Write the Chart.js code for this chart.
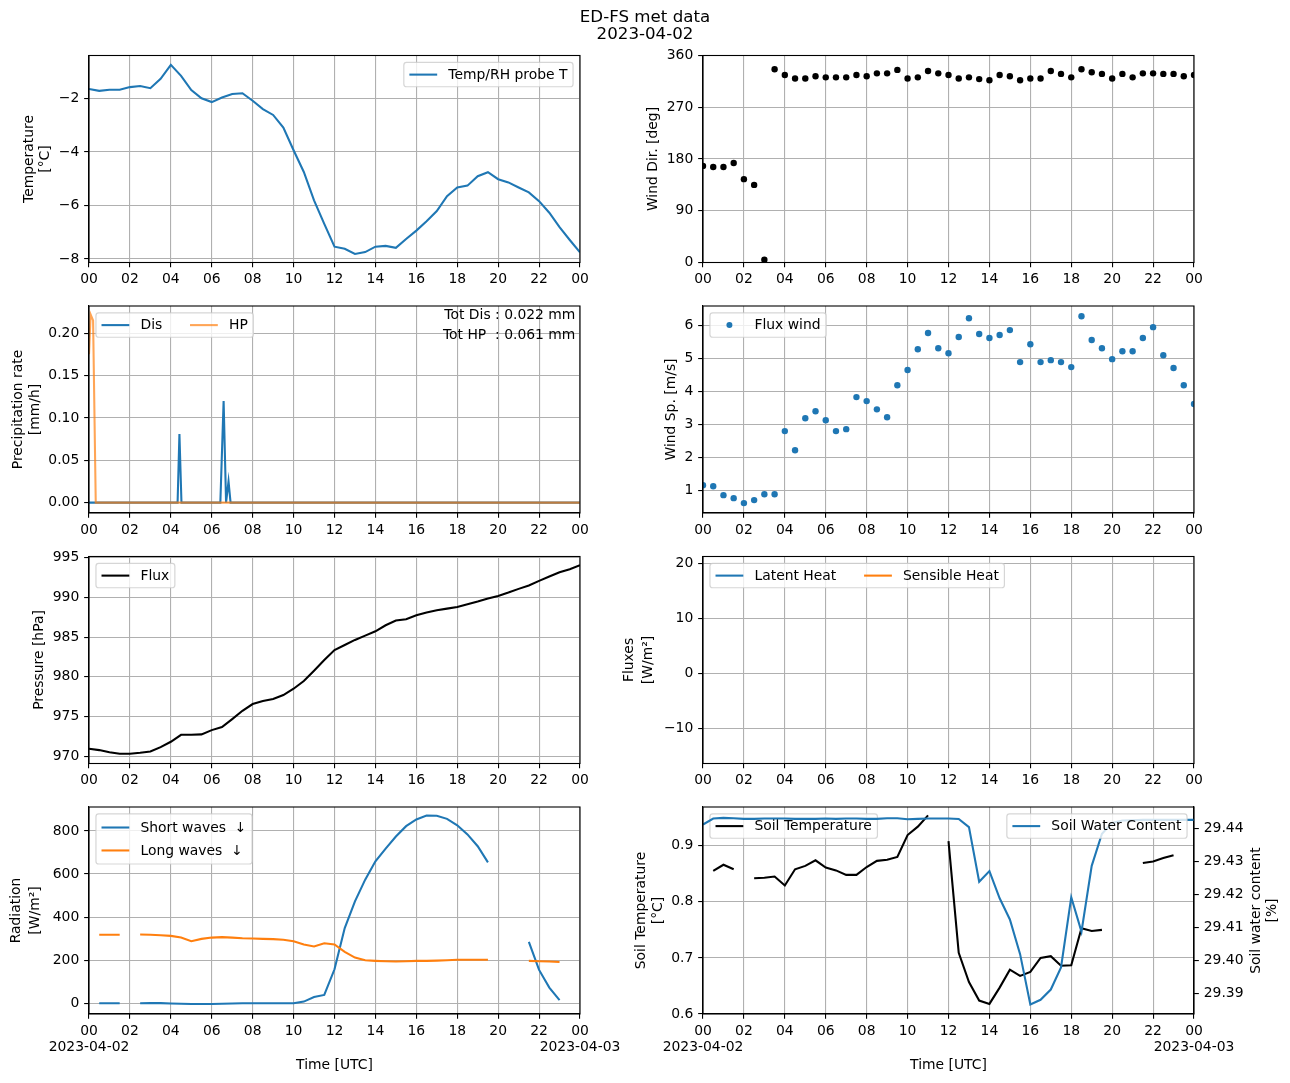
<!DOCTYPE html>
<html><head><meta charset="utf-8">
<script src="https://cdn.jsdelivr.net/npm/chart.js@4.4.0/dist/chart.umd.min.js"></script>
<style>
html,body{margin:0;padding:0;background:#fff;}
#wrap{position:relative;width:1290px;height:1083px;background:#fff;}
#wrap canvas{position:absolute;left:0;top:0;}
</style></head><body><div id="wrap"></div>
<script>
// ---------------- DATA ----------------
const times = [0,0.5,1,1.5,2,2.5,3,3.5,4,4.5,5,5.5,6,6.5,7,7.5,8,8.5,9,9.5,10,10.5,11,11.5,12,12.5,13,13.5,14,14.5,15,15.5,16,16.5,17,17.5,18,18.5,19,19.5,20,20.5,21,21.5,22,22.5,23,23.5,24];
const xTickHours = [0,2,4,6,8,10,12,14,16,18,20,22,24];
const startDate = '2023-04-02';
const endDate = '2023-04-03';

const tempTicks = [-8,-6,-4,-2];
const windDirTicks = [0,90,180,270,360];
const precipTicks = [0,0.05,0.10,0.15,0.20];
const windSpTicks = [1,2,3,4,5,6];
const pressureTicks = [970,975,980,985,990,995];
const fluxTicks = [-10,0,10,20];
const radTicks = [0,200,400,600,800];
const soilTempTicks = [0.6,0.7,0.8,0.9];
const soilWaterTicks = [29.39,29.40,29.41,29.42,29.43,29.44];

const tempProbe = [-1.65,-1.72,-1.68,-1.68,-1.58,-1.54,-1.62,-1.27,-0.75,-1.16,-1.69,-2.00,-2.14,-1.97,-1.84,-1.81,-2.09,-2.40,-2.62,-3.09,-3.94,-4.75,-5.81,-6.69,-7.54,-7.62,-7.81,-7.74,-7.54,-7.51,-7.58,-7.25,-6.94,-6.59,-6.21,-5.65,-5.33,-5.26,-4.91,-4.76,-5.02,-5.14,-5.33,-5.51,-5.84,-6.27,-6.81,-7.29,-7.75];

const windDir = [168,166,166,173,145,135,5,336,326,320,320,324,322,322,322,326,324,329,329,335,320,322,333,329,326,320,322,319,317,326,324,317,320,320,333,328,322,336,331,328,320,328,322,329,329,328,328,324,326];

const disTimes = [0,4.33,4.42,4.52,6.42,6.58,6.70,6.82,6.92,24];
const disRate  = [0,0,0.081,0,0,0.12,0,0.025,0,0];
const hpTimes  = [0,0.08,0.2,0.33,24];
const hpRate   = [0.175,0.222,0.215,0,0];
const totDis = '0.022';
const totHP = '0.061';

const windSpeed = [1.15,1.12,0.85,0.76,0.61,0.70,0.88,0.88,2.79,2.21,3.18,3.39,3.12,2.79,2.85,3.82,3.70,3.45,3.21,4.18,4.64,5.27,5.76,5.30,5.15,5.64,6.21,5.73,5.61,5.70,5.85,4.88,5.42,4.88,4.94,4.88,4.73,6.27,5.55,5.30,4.97,5.21,5.21,5.61,5.94,5.09,4.70,4.18,3.61];

const pressure = [970.93,970.76,970.50,970.29,970.29,970.42,970.59,971.14,971.81,972.69,972.69,972.74,973.28,973.66,974.67,975.72,976.57,976.94,977.20,977.70,978.50,979.47,980.77,982.12,983.38,984.01,984.65,985.19,985.74,986.50,987.09,987.26,987.76,988.10,988.39,988.60,988.81,989.15,989.49,989.87,990.20,990.62,991.09,991.51,992.10,992.64,993.19,993.57,994.07];

const latentHeat = [];
const sensibleHeat = [];

const shortWaves = [null,0,0,0,null,0,1,1,-1,-2,-3,-3,-3,-2,-1,0,0,0,0,0,0,8,29,39,158,349,473,574,659,718,774,822,853,871,870,856,826,784,729,654,null,null,null,285,155,73,15,null,null];
const longWaves  = [null,318,318,318,null,319,318,316,313,305,288,299,305,307,305,302,301,299,298,295,288,273,264,279,273,239,212,200,197,195,194,195,197,197,198,200,202,202,202,202,null,null,null,197,195,194,192,null,null];

const soilTemp = [null,0.855,0.866,0.858,null,0.842,0.843,0.845,0.829,0.858,0.864,0.874,0.861,0.856,0.848,0.848,0.862,0.873,0.875,0.880,0.919,0.934,0.954,null,0.908,0.709,0.657,0.624,0.618,0.647,0.679,0.668,0.675,0.700,0.703,0.686,0.687,0.753,0.748,0.750,null,null,null,0.869,0.872,0.878,0.883,null,null];
const soilWater = [29.4411,29.4429,29.4431,29.4430,29.4428,29.4428,29.4429,29.4429,29.4429,29.4428,29.4428,29.4428,29.4429,29.4428,29.4429,29.4429,29.4428,29.4428,29.4430,29.4430,29.4427,29.4428,29.4429,29.4429,29.4429,29.4428,29.4403,29.4238,29.4270,29.4188,29.4124,29.4019,29.3867,29.3881,29.3912,29.3979,29.4191,29.4087,29.4286,29.4383,29.4416,29.4423,29.4424,29.4425,29.4425,29.4425,29.4425,29.4425,29.4425];

// ---------------- STYLE ----------------
const C0 = '#1f77b4', C1 = '#ff7f0e', C1a = 'rgba(255,127,14,0.7)';
const FONT = "'DejaVu Sans', sans-serif";
const FS = 13.9, LW = 2.08, TL = 4.86;
Chart.defaults.font.family = FONT;
Chart.defaults.font.size = FS;
Chart.defaults.color = '#000';
const wrap = document.getElementById('wrap');
const minus = s => String(s).replace('-', '\u2212');
const COL = {left:{L:89,R:580}, right:{L:703,R:1194}};
const ROWS = [55.5,306,556.5,807];
const RH = 207;

function gridOpts(extra){
  return Object.assign({color:'#b0b0b0', lineWidth:1.1, tickColor:'#000', tickLength:TL, tickWidth:1.1}, extra||{});
}
function xAxis(bottom){
  return {
    type:'linear', min:0, max:24,
    afterBuildTicks: s => { s.ticks = xTickHours.map(v => ({value:v})); },
    ticks:{padding:3.9, maxRotation:0, minRotation:0, autoSkip:false, includeBounds:false, color:'#000', font:{size:FS},
      callback: v => {
        const h = String(v % 24).padStart(2,'0');
        if (bottom && v === 0) return [h, startDate];
        if (bottom && v === 24) return [h, endDate];
        return h;
      }},
    grid: gridOpts(),
    border:{display:true, color:'#000', width:1.1},
    title: bottom ? {display:true, text:'Time [UTC]', padding:0, color:'#000', font:{size:FS}} : {display:false},
    afterFit: s => { s.height = bottom ? 59.35 : 40; }
  };
}
function yAxis(o){
  return {
    type:'linear', position:o.position||'left', min:o.min, max:o.max,
    afterBuildTicks: s => { s.ticks = o.ticks.map(v => ({value:v})); },
    ticks:{padding:TL, autoSkip:false, includeBounds:false, color:'#000', font:{size:FS},
      callback: v => minus(o.fmt ? o.fmt(v) : Math.round(v))},
    grid: gridOpts(o.noGrid ? {drawOnChartArea:false} : {}),
    border:{display:true, color:'#000', width:1.1},
    title: o.title ? {display:true, text:o.title, padding:0, color:'#000', font:{size:FS, lineHeight:o.lh||1.2}} : {display:false},
    afterFit: s => { s.width = o.width; }
  };
}
function roundRect(ctx,x,y,w,h,r){
  ctx.beginPath();
  ctx.moveTo(x+r,y); ctx.lineTo(x+w-r,y); ctx.arcTo(x+w,y,x+w,y+r,r);
  ctx.lineTo(x+w,y+h-r); ctx.arcTo(x+w,y+h,x+w-r,y+h,r);
  ctx.lineTo(x+r,y+h); ctx.arcTo(x,y+h,x,y+h-r,r);
  ctx.lineTo(x,y+r); ctx.arcTo(x,y,x+r,y,r); ctx.closePath();
}
function legendBox(ctx, a, lg){
  const fs=FS, pad=0.4*fs, hl=2*fs, htp=0.8*fs, cs=2*fs, ls=0.5*fs, bap=0.5*fs;
  const rowH = lg.rowH || 13.2;
  const ncol = lg.ncol || 1, items = lg.items;
  const nrow = Math.ceil(items.length/ncol);
  ctx.save();
  ctx.font = fs + 'px ' + FONT;
  const colW = [];
  for (let c=0;c<ncol;c++){ let w=0; for(let r=0;r<nrow;r++){ const it=items[c*nrow+r]; if(it) w=Math.max(w, hl+htp+ctx.measureText(it.label).width); } colW.push(w); }
  const W = pad*2 + colW.reduce((s,b)=>s+b,0) + cs*(ncol-1);
  const H = pad*2 + nrow*rowH + (nrow-1)*ls;
  const x0 = lg.loc==='upper right' ? a.right - bap - W : a.left + bap;
  const y0 = a.top + bap;
  roundRect(ctx,x0,y0,W,H,2.8);
  ctx.fillStyle='rgba(255,255,255,0.8)'; ctx.fill();
  ctx.strokeStyle='rgba(204,204,204,0.8)'; ctx.lineWidth=1.2; ctx.stroke();
  let cx = x0 + pad;
  for (let c=0;c<ncol;c++){
    for (let r=0;r<nrow;r++){
      const it = items[c*nrow+r]; if(!it) continue;
      const cy = y0 + pad + r*(rowH+ls) + rowH/2;
      if (it.type==='marker'){
        ctx.beginPath(); ctx.arc(cx+hl/2, cy, 3, 0, Math.PI*2); ctx.fillStyle=it.color; ctx.fill();
      } else {
        ctx.beginPath(); ctx.moveTo(cx,cy); ctx.lineTo(cx+hl,cy); ctx.strokeStyle=it.color; ctx.lineWidth=LW; ctx.stroke();
      }
      ctx.fillStyle='#000'; ctx.textAlign='left'; ctx.textBaseline='middle';
      ctx.fillText(it.label, cx+hl+htp, cy+0.5);
    }
    cx += colW[c] + cs;
  }
  ctx.restore();
}
let pid = 0;
function makeChart(p){
  const c = document.createElement('canvas'); c.width=1290; c.height=1083; wrap.appendChild(c);
  const L=COL[p.col].L, R=COL[p.col].R, T=ROWS[p.row], B=T+RH;
  const bottom = p.row===3;
  const Hx = bottom ? 59.35 : 40;
  const Wy = p.y.width, Wr = p.y2 ? p.y2.width : 0;
  const scales = {x:xAxis(bottom), y:yAxis(p.y)};
  if (p.y2) scales.y2 = yAxis(Object.assign({position:'right', noGrid:true}, p.y2));
  const plugin = {
    id:'mpl'+(pid++),
    afterDatasetDraw(chart,args){ (p.legends||[]).forEach(lg=>{ if(lg.afterDataset===args.index) legendBox(chart.ctx, chart.chartArea, lg); }); },
    afterDatasetsDraw(chart){
      const a=chart.chartArea, ctx=chart.ctx;
      ctx.save(); ctx.strokeStyle='#000'; ctx.lineWidth=1.1; ctx.strokeRect(a.left,a.top,a.right-a.left,a.bottom-a.top); ctx.restore();
      (p.legends||[]).forEach(lg=>{ if(lg.afterDataset===undefined) legendBox(ctx,a,lg); });
      if (p.extraDraw) p.extraDraw(chart);
    }
  };
  const datasets = p.datasets.map(d => Object.assign({pointRadius:0, borderWidth:LW, tension:0, fill:false, clip:0, spanGaps:false}, d));
  new Chart(c, {type:'line', data:{labels:p.labels, datasets},
    options:{responsive:false, maintainAspectRatio:false, animation:false, events:[],
      layout:{padding:{left:L-Wy, top:T, right:1290-R-Wr, bottom:1083-B-Hx}},
      plugins:{legend:{display:false}, tooltip:{enabled:false}, title:{display:false}},
      scales},
    plugins:[plugin]});
}

// 1. Temperature
makeChart({col:'left', row:0, labels:times,
  datasets:[{label:'Temp/RH probe T', data:tempProbe, borderColor:C0}],
  y:{min:-8.13, max:-0.40, ticks:tempTicks, width:68.35, title:['Temperature','[°C]']},
  legends:[{loc:'upper right', items:[{label:'Temp/RH probe T', color:C0}]}],
  extraDraw(chart){
    const ctx=chart.ctx; ctx.save(); ctx.fillStyle='#000'; ctx.textAlign='center'; ctx.textBaseline='alphabetic';
    ctx.font='16.67px '+FONT; ctx.fillText('ED-FS met data',645,22); ctx.fillText(startDate,645,39); ctx.restore();
  }});
// 2. Wind direction
makeChart({col:'right', row:0, labels:times,
  datasets:[{label:'Wind Dir.', data:windDir, showLine:false, pointRadius:3.2, pointBorderWidth:0, pointBackgroundColor:'#000', borderColor:'#000'}],
  y:{min:0, max:360, ticks:windDirTicks, width:58.35, title:'Wind Dir. [deg]'}});
// 3. Precipitation
makeChart({col:'left', row:1,
  datasets:[
    {label:'Dis', data:disTimes.map((t,i)=>({x:t,y:disRate[i]})), borderColor:C0, order:2},
    {label:'HP', data:hpTimes.map((t,i)=>({x:t,y:hpRate[i]})), borderColor:C1a, order:1}],
  y:{min:-0.0122, max:0.232, ticks:precipTicks, width:78.75, title:['Precipitation rate','[mm/h]'], fmt:v=>v.toFixed(2)},
  legends:[{loc:'upper left', ncol:2, items:[{label:'Dis', color:C0},{label:'HP', color:C1a}]}],
  extraDraw(chart){
    const a=chart.chartArea, ctx=chart.ctx; ctx.save(); ctx.fillStyle='#000'; ctx.textAlign='right'; ctx.textBaseline='middle';
    ctx.font=FS+'px '+FONT;
    ctx.fillText('Tot Dis : '+totDis+' mm', a.right-4.6, a.top+9.2);
    ctx.fillText('Tot HP  : '+totHP+' mm', a.right-4.6, a.top+29.5);
    ctx.restore();
  }});
// 4. Wind speed
makeChart({col:'right', row:1, labels:times,
  datasets:[{label:'Flux wind', data:windSpeed, showLine:false, pointRadius:3.2, pointBorderWidth:0, pointBackgroundColor:C0, borderColor:C0}],
  y:{min:0.31, max:6.58, ticks:windSpTicks, width:40.35, title:'Wind Sp. [m/s]'},
  legends:[{loc:'upper left', items:[{label:'Flux wind', color:C0, type:'marker'}]}]});
// 5. Pressure
makeChart({col:'left', row:2, labels:times,
  datasets:[{label:'Flux', data:pressure, borderColor:'#000'}],
  y:{min:969.07, max:995.17, ticks:pressureTicks, width:58.35, title:'Pressure [hPa]'},
  legends:[{loc:'upper left', items:[{label:'Flux', color:'#000'}]}]});
// 6. Fluxes
makeChart({col:'right', row:2, labels:times,
  datasets:[{label:'Latent Heat', data:latentHeat, borderColor:C0},{label:'Sensible Heat', data:sensibleHeat, borderColor:C1}],
  y:{min:-16.4, max:21.2, ticks:fluxTicks, width:82.9, lh:1.37, title:['Fluxes','[W/m²]']},
  legends:[{loc:'upper left', ncol:2, items:[{label:'Latent Heat', color:C0},{label:'Sensible Heat', color:C1}]}]});
// 7. Radiation
makeChart({col:'left', row:3, labels:times,
  datasets:[{label:'Short waves ↓', data:shortWaves, borderColor:C0, order:2},{label:'Long waves ↓', data:longWaves, borderColor:C1, order:1}],
  y:{min:-49.6, max:911, ticks:radTicks, width:82.5, lh:1.37, title:['Radiation','[W/m²]']},
  legends:[{loc:'upper left', rowH:16, items:[{label:'Short waves  ↓', color:C0},{label:'Long waves  ↓', color:C1}]}]});
// 8. Soil
makeChart({col:'right', row:3, labels:times,
  datasets:[{label:'Soil Temperature', data:soilTemp, borderColor:'#000', yAxisID:'y', order:2},
            {label:'Soil Water Content', data:soilWater, borderColor:C0, yAxisID:'y2', order:1}],
  y:{min:0.6, max:0.969, ticks:soilTempTicks, width:69.85, title:['Soil Temperature','[°C]'], fmt:v=>v.toFixed(1)},
  y2:{min:29.3838, max:29.4464, ticks:soilWaterTicks, width:96, fmt:v=>v.toFixed(2)},
  legends:[{loc:'upper left', afterDataset:0, items:[{label:'Soil Temperature', color:'#000'}]},
           {loc:'upper right', items:[{label:'Soil Water Content', color:C0}]}],
  extraDraw(chart){
    const a=chart.chartArea, ctx=chart.ctx; ctx.save(); ctx.fillStyle='#000'; ctx.textAlign='center'; ctx.textBaseline='middle';
    ctx.font=FS+'px '+FONT;
    const yc=(a.top+a.bottom)/2;
    ctx.translate(a.right+62.3, yc); ctx.rotate(-Math.PI/2);
    ctx.fillText('Soil water content', 0, 0);
    ctx.fillText('[%]', 0, 16.3);
    ctx.restore();
  }});
</script></body></html>
